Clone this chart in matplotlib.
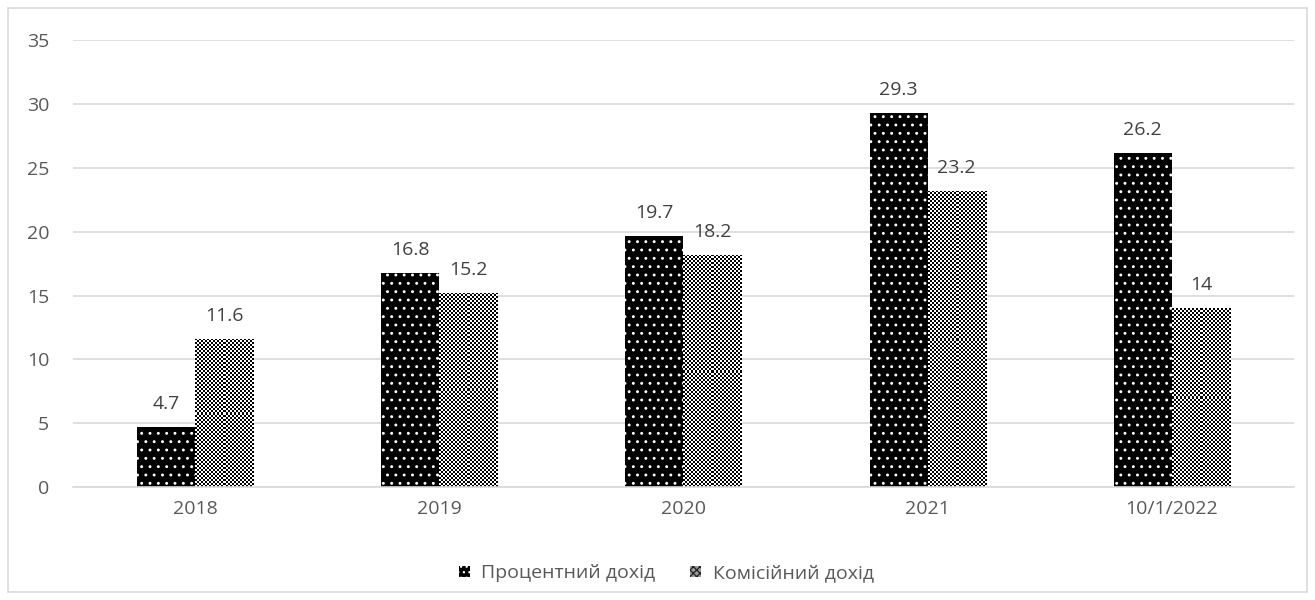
import matplotlib.pyplot as plt
import matplotlib.patches as mpatches
import numpy as np

# income by year, bn
periods = ['2018', '2019', '2020', '2021', '10/1/2022']
interest_income = [4.7, 16.8, 19.7, 29.3, 26.2]
commission_income = [11.6, 15.2, 18.2, 23.2, 14]
series_names = ['Процентний дохід', 'Комісійний дохід']

plt.rcParams['font.family'] = ['Open Sans', 'DejaVu Sans']
plt.rcParams['hatch.linewidth'] = 0.9

fig = plt.figure(figsize=(13.15, 6), dpi=100)
ax = fig.add_axes([0.0555, 0.188, 0.9285, 0.745])

# light frame round the whole chart
fig.patches.append(mpatches.Rectangle((8 / 1315, 8 / 600), 1 - 16 / 1315, 1 - 16 / 600,
                                      transform=fig.transFigure, fill=False,
                                      edgecolor='#d9d9d9', linewidth=1.2))

x = np.arange(len(periods))
w = 0.238

b1 = ax.bar(x - w / 2, interest_income, w, facecolor='black', edgecolor='white',
            hatch='..', linewidth=0)
b2 = ax.bar(x + w / 2, commission_income, w, facecolor='none', linewidth=0)

# fine checkerboard fill for the commission bars
px_per_x = 1221 / len(periods)
px_per_y = 447 / 35
for rect, v in zip(b2, commission_income):
    nx = int(round(rect.get_width() * px_per_x / 2))
    ny = max(1, int(round(v * px_per_y / 2)))
    checker = (np.indices((ny, nx)).sum(axis=0) % 2).astype(float)
    im = ax.imshow(checker, cmap='gray', vmin=0, vmax=1, interpolation='nearest',
                   extent=(rect.get_x(), rect.get_x() + rect.get_width(), 0, v),
                   aspect='auto', zorder=2)
    im.set_clip_path(rect)

for bars, vals in ((b1, interest_income), (b2, commission_income)):
    for rect, v in zip(bars, vals):
        ax.annotate(f'{v:g}', (rect.get_x() + rect.get_width() / 2, v),
                    xytext=(0, 13), textcoords='offset points',
                    ha='center', va='baseline', fontsize=14, color='#404040')

ax.set_xlim(-0.5, len(periods) - 0.5)
ax.set_ylim(0, 35)
ax.set_yticks(range(0, 36, 5))
ax.set_xticks(x)
ax.set_xticklabels(periods)
ax.tick_params(length=0, labelsize=14, labelcolor='#595959')
ax.tick_params(axis='x', pad=9)
ax.tick_params(axis='y', pad=17)

ax.grid(axis='y', color='#d9d9d9', linewidth=1.2)
ax.set_axisbelow(True)
for s in ['top', 'right', 'left']:
    ax.spines[s].set_visible(False)
ax.spines['bottom'].set_color('#d9d9d9')
ax.spines['bottom'].set_linewidth(1.2)

handles = [mpatches.Patch(facecolor='black', edgecolor='white', hatch='...', linewidth=0),
           mpatches.Patch(facecolor='#9a9a9a', edgecolor='#222222', hatch='xxxxx', linewidth=0)]
ax.legend(handles, series_names, loc='center', bbox_to_anchor=(0.486, -0.193), ncol=2,
          frameon=False, fontsize=14, labelcolor='#595959', handlelength=0.55,
          handleheight=0.55, handletextpad=0.6, columnspacing=1.8)

fig.savefig('out.png', dpi=100)
